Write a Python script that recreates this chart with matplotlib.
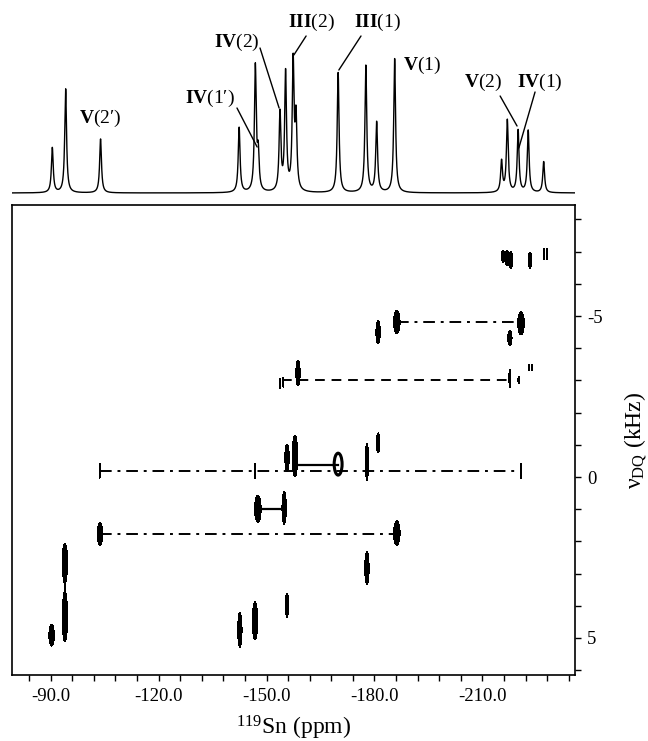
import numpy as np
import matplotlib
matplotlib.use("Agg")
import matplotlib.pyplot as plt
from matplotlib.patches import Ellipse
from matplotlib.ticker import FixedLocator, MultipleLocator, FormatStrFormatter

plt.rcParams["font.family"] = ["Liberation Serif", "DejaVu Serif"]
plt.rcParams["mathtext.fontset"] = "custom"
plt.rcParams["mathtext.rm"] = "Liberation Serif"
plt.rcParams["mathtext.bf"] = "Liberation Serif:bold"
plt.rcParams["mathtext.it"] = "Liberation Serif:italic"
plt.rcParams["axes.unicode_minus"] = False

# ---------------- 1D 119Sn projection (peak list) ----------------
spec_ppm = [-90.5, -94.2, -103.9, -142.4, -146.9, -147.7, -153.75, -155.3, -157.4,
            -158.2, -169.9, -177.6, -180.6, -185.6, -215.3, -216.9, -219.9,
            -222.7, -227.0]
spec_int = [45, 104, 54, 65, 125, 36, 78, 118, 128, 70, 120, 127, 70, 134,
            31, 72, 62, 62, 31]
spec_hwhm = 0.3

# peak labels
label_text = [r"$\mathbf{V}$(2′)", r"$\mathbf{IV}$(1′)", r"$\mathbf{IV}$(2)",
              r"$\mathbf{III}$(2)", r"$\mathbf{III}$(1)", r"$\mathbf{V}$(1)",
              r"$\mathbf{V}$(2)", r"$\mathbf{IV}$(1)"]
label_ppm = [-103.8, -134.3, -141.8, -162.4, -180.7, -193.2, -210.1, -226.0]
label_y = [75, 95, 151, 171, 171, 128, 111, 111]
# leader lines: (label index, start ppm, start y, end ppm, end y)
leader_lines = [
    (1, -141.8, 85, -147.4, 46),
    (2, -148.2, 145, -153.5, 85),
    (3, -161.0, 157, -157.6, 138),
    (4, -176.25, 157, -170.1, 123),
    (6, -214.9, 97, -219.6, 67),
    (7, -224.6, 101, -220.1, 45),
]

# ---------------- 2D DQ correlation peaks ----------------
cross_ppm = [-215.7, -216.8, -217.9, -223.2, -227.1, -227.9,
             -186.2, -220.7, -181.0, -217.6,
             -153.75, -154.6, -158.75, -217.6, -220.1, -222.9, -223.8,
             -103.75, -146.8, -155.7, -157.9, -177.9, -181.0, -220.7,
             -147.6, -154.9,
             -103.75, -186.2,
             -94.0, -177.9,
             -94.0, -146.8, -155.7, -90.3, -142.6]
cross_dq = [-6.86, -6.80, -6.74, -6.74, -6.93, -6.93,
            -4.81, -4.78, -4.50, -4.32,
            -2.90, -2.95, -3.23, -3.07, -3.01, -3.40, -3.40,
            -0.20, -0.20, -0.60, -0.65, -0.47, -1.06, -0.20,
            0.99, 0.96,
            1.77, 1.74,
            2.64, 2.83,
            4.35, 4.47, 3.98, 4.91, 4.75]
cross_w = [0.9, 1.1, 1.1, 1.1, 0.45, 0.45,
           1.8, 1.8, 1.2, 1.2,
           0.45, 0.45, 1.2, 0.55, 0.55, 0.3, 0.3,
           0.45, 0.45, 1.2, 1.5, 0.9, 0.9, 0.45,
           1.8, 1.2,
           1.5, 1.8,
           1.5, 1.2,
           1.5, 1.5, 0.9, 1.5, 1.2]
cross_h = [0.37, 0.47, 0.50, 0.50, 0.37, 0.37,
           0.72, 0.72, 0.72, 0.47,
           0.31, 0.31, 0.80, 0.56, 0.20, 0.20, 0.20,
           0.47, 0.47, 0.84, 1.30, 1.15, 0.62, 0.47,
           0.84, 1.02,
           0.72, 0.75,
           1.15, 1.02,
           1.52, 1.18, 0.75, 0.68, 1.09]

# open (ring) contour peak
ring_ppm, ring_dq, ring_w, ring_h = -169.9, -0.40, 2.2, 0.68

# connectivity lines
link_dq = [-0.20, 1.77, -4.81, -3.01, -0.37, 1.00]
link_from = [-103.75, -103.75, -186.2, -154.3, -157.9, -147.6]
link_to = [-220.7, -186.2, -220.7, -217.6, -169.9, -154.9]
link_style = ["dashdot", "dashdot", "dashdot", "dashed", "solid", "solid"]

xlim = (-79.3, -235.7)
ylim = (6.15, -8.45)

W, H = 648, 741
fig = plt.figure(figsize=(W / 100, H / 100), dpi=100)

L = 12 / W
Wd = (575 - 12) / W
ax = fig.add_axes([L, (H - 675) / H, Wd, (675 - 205) / H])
axt = fig.add_axes([L, (H - 196) / H, Wd, 196 / H])

# ---- top spectrum ----
xs = np.linspace(xlim[0], xlim[1], 6000)
spec = np.zeros_like(xs)
for p, h in zip(spec_ppm, spec_int):
    spec += h * spec_hwhm ** 2 / ((xs - p) ** 2 + spec_hwhm ** 2)
axt.plot(xs, spec, color="black", lw=1.0)
axt.set_xlim(*xlim)
axt.set_ylim(-3, 193)
axt.axis("off")

for txt, px, py in zip(label_text, label_ppm, label_y):
    axt.text(px, py, txt, ha="center", va="center", fontsize=14)
for i, x0, y0, x1, y1 in leader_lines:
    axt.annotate("", xy=(x1, y1), xytext=(x0, y0),
                 arrowprops=dict(arrowstyle="-", lw=1.0, color="black",
                                 shrinkA=0, shrinkB=0))

# ---- 2D map ----
gx = np.linspace(xlim[0], xlim[1], 1500)
gy = np.linspace(ylim[1], ylim[0], 1100)
X, Y = np.meshgrid(gx, gy)
Z = np.zeros_like(X)
k = np.sqrt(2 * np.log(1 / 0.35))
for p, d, w, h in zip(cross_ppm, cross_dq, cross_w, cross_h):
    sx = (w / 2) / k
    sy = (h / 2) / k
    Z += np.exp(-0.5 * ((X - p) / sx) ** 2 - 0.5 * ((Y - d) / sy) ** 2)
ax.contourf(X, Y, Z, levels=[0.35, 1e9], colors="black")

ax.add_patch(Ellipse((ring_ppm, ring_dq), ring_w, ring_h, fill=False,
                     lw=2.2, edgecolor="black"))

styles = {"dashdot": (0, (6, 3, 1.5, 3)), "dashed": (0, (5, 3.5)), "solid": "-"}
for d, a, b, s in zip(link_dq, link_from, link_to, link_style):
    ax.plot([a, b], [d, d], color="black", lw=1.4 if s != "solid" else 1.6,
            linestyle=styles[s])

ax.set_xlim(*xlim)
ax.set_ylim(*ylim)

ax.xaxis.set_major_locator(FixedLocator([-90, -120, -150, -180, -210]))
ax.xaxis.set_minor_locator(MultipleLocator(6))
ax.xaxis.set_major_formatter(FormatStrFormatter("%.1f"))
ax.yaxis.set_major_locator(FixedLocator([-5, 0, 5]))
ax.yaxis.set_minor_locator(MultipleLocator(1))
ax.yaxis.set_major_formatter(FormatStrFormatter("%d"))
ax.yaxis.tick_right()
ax.tick_params(axis="both", which="both", direction="out", length=4.5,
               width=1.0, labelsize=13.5)
ax.tick_params(axis="x", which="both", pad=5, top=False)
ax.tick_params(axis="y", which="both", pad=4, left=False)
for sp in ax.spines.values():
    sp.set_linewidth(1.2)

ax.set_xlabel(r"$^{119}$Sn (ppm)", fontsize=17)
ax.xaxis.set_label_coords(0.5, -0.082)
ax.yaxis.set_label_position("right")
ax.set_ylabel("ν$_{\\rm DQ}$ (kHz)", fontsize=17, rotation=90)
ax.yaxis.set_label_coords(1.085, 0.5)

fig.savefig("out.png", dpi=100)
